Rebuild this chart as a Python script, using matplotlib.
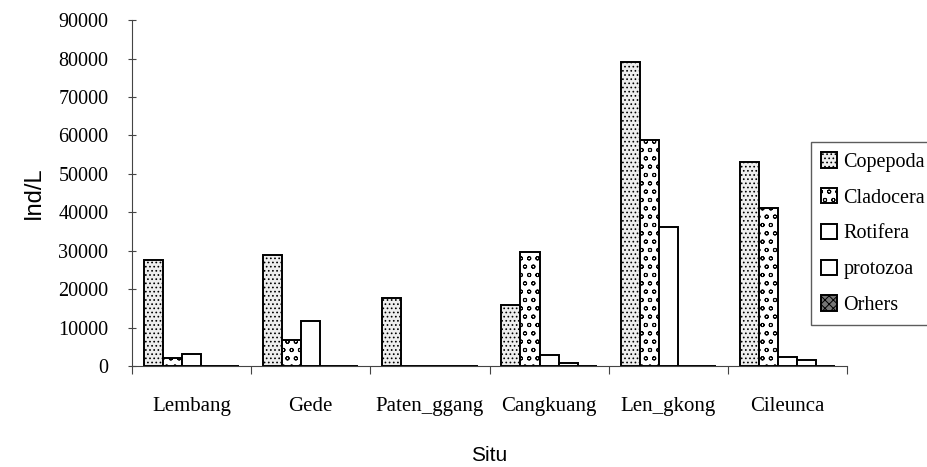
import numpy as np
import matplotlib
matplotlib.use("Agg")
import matplotlib.pyplot as plt

plt.rcParams["hatch.linewidth"] = 0.7

sites = ["Lembang", "Gede", "Paten_ggang", "Cangkuang", "Len_gkong", "Cileunca"]
groups = ["Copepoda", "Cladocera", "Rotifera", "protozoa", "Orhers"]

copepoda = [27500, 28900, 17800, 15800, 79000, 53100]
cladocera = [2200, 6800, 0, 29600, 58900, 41100]
rotifera = [3000, 11600, 0, 2900, 36100, 2300]
protozoa = [0, 0, 0, 800, 0, 1600]
others = [0, 0, 0, 0, 0, 0]

yticks = [0, 10000, 20000, 30000, 40000, 50000, 60000, 70000, 80000, 90000]

STYLES = {
    "Copepoda": dict(facecolor="#eeeeee", hatch="...."),
    "Cladocera": dict(facecolor="white", hatch="oo"),
    "Rotifera": dict(facecolor="white", hatch=""),
    "protozoa": dict(facecolor="white", hatch=""),
    "Orhers": dict(facecolor="#777777", hatch="xxxx"),
}

SERIF = "Liberation Serif"
SANS = "Liberation Sans"


def main():
    fig = plt.figure(figsize=(9.27, 4.67), dpi=100)
    ax = fig.add_axes([0.1424, 0.2163, 0.7713, 0.7407])

    series = [copepoda, cladocera, rotifera, protozoa, others]
    n = len(groups)
    width = 0.8 / n
    x = np.arange(len(sites)) + 0.5
    for i, (name, vals) in enumerate(zip(groups, series)):
        ax.bar(
            x - 0.4 + width * (i + 0.5),
            vals,
            width=width,
            edgecolor="black",
            linewidth=1.4,
            label=name,
            **STYLES[name],
        )

    ax.set_xlim(0, len(sites))
    ax.set_ylim(0, 90000)
    ax.set_yticks(yticks)
    ax.set_yticklabels([str(v) for v in yticks], fontfamily=SERIF, fontsize=14.5)
    ax.set_xticks(np.arange(len(sites) + 1))
    ax.set_xticklabels([])
    ax.set_xticks(x, minor=True)
    ax.set_xticklabels(sites, minor=True, fontfamily=SERIF, fontsize=15)
    ax.tick_params(axis="x", which="minor", length=0, pad=22)
    ax.tick_params(axis="x", which="major", direction="out", length=6, color="#444444")
    ax.tick_params(axis="y", direction="inout", length=6, pad=14, color="#444444")

    for s in ["top", "right"]:
        ax.spines[s].set_visible(False)
    ax.spines["left"].set_color("#444444")
    ax.spines["bottom"].set_color("#444444")

    ax.set_ylabel("Ind/L", fontfamily=SANS, fontsize=17, labelpad=10)
    ax.set_xlabel("Situ", fontfamily=SANS, fontsize=15, labelpad=22)

    leg = ax.legend(
        loc="upper left",
        bbox_to_anchor=(801 / 927, 1 - 132 / 467),
        bbox_transform=fig.transFigure,
        prop={"family": SERIF, "size": 14.5},
        frameon=True,
        fancybox=False,
        edgecolor="#333333",
        handlelength=0.8,
        handleheight=0.8,
        handletextpad=0.3,
        labelspacing=0.8,
        borderpad=0.5,
    )
    leg.get_frame().set_linewidth(1.0)

    fig.savefig("out.png", dpi=100)
    plt.close(fig)


if __name__ == "__main__":
    main()
